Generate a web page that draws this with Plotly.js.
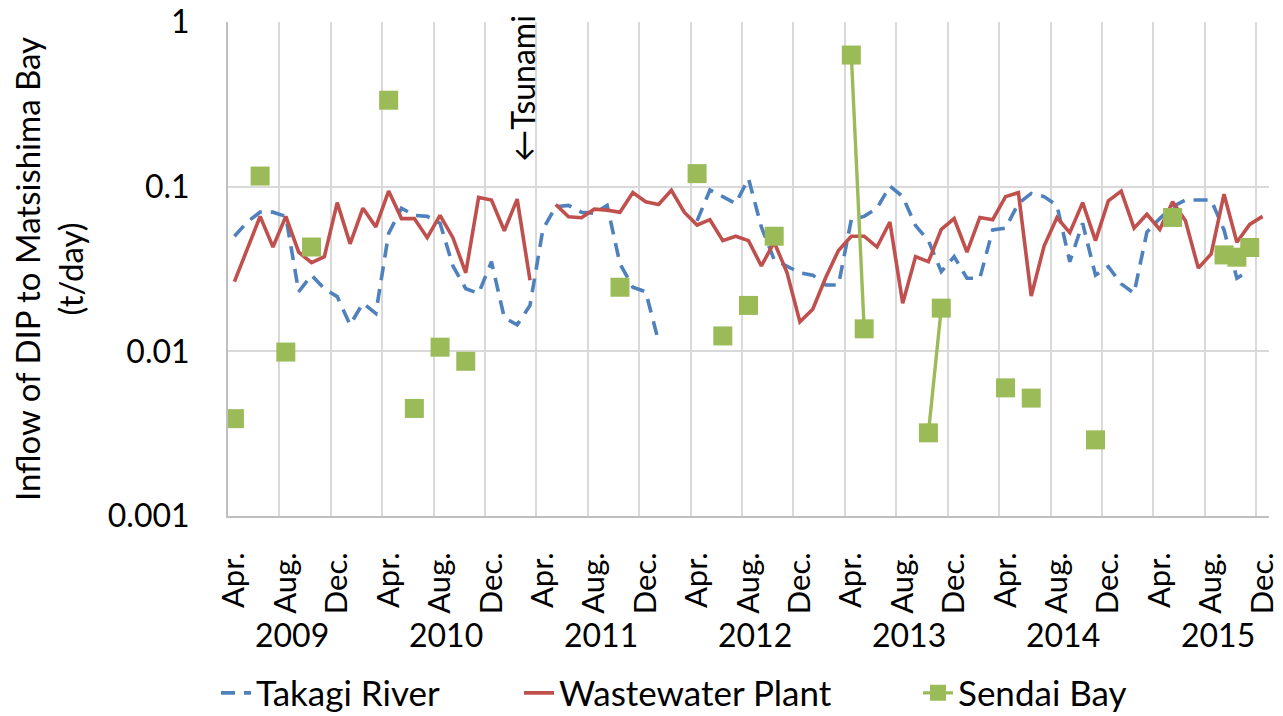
<!DOCTYPE html>
<html>
<head>
<meta charset="utf-8">
<script src="https://cdn.plot.ly/plotly-3.0.1.min.js"></script>
<style>
  html, body { margin: 0; padding: 0; background: #fff; }
  #chart { width: 1283px; height: 716px; }
</style>
</head>
<body>
<div id="chart"></div>
<script>
// ---- Data (monthly, Apr 2009 – Dec 2015), t/day ----
const startYear = 2009, startMonth = 4, monthCount = 81;
const monthNames = ['Jan.','Feb.','Mar.','Apr.','May','Jun.','Jul.','Aug.','Sep.','Oct.','Nov.','Dec.'];
const categories = [];
for (let i = 0; i < monthCount; i++) {
  const m = (startMonth - 1 + i) % 12;
  const y = startYear + Math.floor((startMonth - 1 + i) / 12);
  categories.push({ year: y, month: monthNames[m], key: y + '-' + String(m + 1).padStart(2, '0') });
}

const takagiRiver = [
  0.050, 0.061, 0.070, 0.070, 0.066, 0.023, 0.029, 0.024, 0.0215, 0.0145, 0.0196, 0.017,
  0.052, 0.074, 0.067, 0.066, 0.060, 0.033, 0.024, 0.0225, 0.035, 0.016, 0.0145, 0.019,
  0.055, 0.0756, 0.077, 0.070, 0.069, 0.077, 0.034, 0.0245, 0.023, 0.0115, null, null,
  0.062, 0.0955, 0.087, 0.079, 0.112, 0.057, 0.036, 0.033, 0.030, 0.029, 0.0253, 0.0253,
  0.063, 0.066, 0.074, 0.101, 0.087, 0.058, 0.047, 0.0305, 0.0376, 0.0278, 0.0278, 0.0546,
  0.056, 0.079, 0.091, 0.087, 0.077, 0.035, 0.060, 0.029, 0.0327, 0.0257, 0.0225, 0.053,
  0.064, 0.0756, 0.083, 0.083, 0.083, 0.0546, 0.0278, 0.031, null
];

const wastewaterPlant = [
  0.0265, 0.042, 0.066, 0.043, 0.066, 0.040, 0.0346, 0.0376, 0.080, 0.045, 0.074, 0.057,
  0.094, 0.064, 0.064, 0.049, 0.067, 0.049, 0.030, 0.086, 0.083, 0.054, 0.084, 0.027,
  null, 0.078, 0.0657, 0.0648, 0.073, 0.072, 0.070, 0.092, 0.081, 0.078, 0.095, 0.070,
  0.0585, 0.063, 0.047, 0.050, 0.047, 0.033, 0.046, 0.030, 0.0151, 0.018, 0.028, 0.041,
  0.050, 0.050, 0.043, 0.061, 0.0196, 0.0376, 0.035, 0.055, 0.064, 0.040, 0.065, 0.063,
  0.087, 0.092, 0.0217, 0.0436, 0.065, 0.0526, 0.080, 0.047, 0.082, 0.094, 0.056, 0.068,
  0.055, 0.081, 0.062, 0.032, 0.039, 0.090, 0.046, 0.059, 0.066
];

const sendaiBay = [
  0.0039, null, 0.116, null, 0.0099, null, 0.043, null, null, null, null, null,
  0.335, null, 0.0045, null, 0.0106, null, 0.0087, null, null, null, null, null,
  null, null, null, null, null, null, 0.0245, null, null, null, null, null,
  0.120, null, 0.0124, null, 0.0190, null, 0.050, null, null, null, null, null,
  0.63, 0.0137, null, null, null, null, 0.0032, 0.0183, null, null, null, null,
  0.0060, null, 0.0052, null, null, null, null, 0.0029, null, null, null, null,
  null, 0.065, null, null, null, 0.0385, 0.0373, 0.0427, null
];

const yTickVals = [0.001, 0.01, 0.1, 1];
const yTickText = ['0.001', '0.01', '0.1', '1'];
const tsunamiMonth = '2011-03';

// ---- Build ----
const xIdx = categories.map((c, i) => i);
const hoverLabels = categories.map(c => c.month + ' ' + c.year);

const tickVals = [], tickText = [];
categories.forEach((c, i) => { if (i % 4 === 0) { tickVals.push(i); tickText.push(c.month); } });

const FONT = 'Lato, "Open Sans", sans-serif';

const traces = [
  {
    name: 'Takagi River', x: xIdx, y: takagiRiver, text: hoverLabels, legend: 'legend',
    type: 'scatter', mode: 'lines', connectgaps: false,
    line: { color: '#4F81BD', width: 3.6, dash: '14px,9px' }
  },
  {
    name: 'Wastewater Plant', x: xIdx, y: wastewaterPlant, text: hoverLabels, legend: 'legend2',
    type: 'scatter', mode: 'lines', connectgaps: false,
    line: { color: '#C0504D', width: 3.6 }
  },
  {
    name: 'Sendai Bay', x: xIdx, y: sendaiBay, text: hoverLabels, legend: 'legend3',
    type: 'scatter', mode: 'lines+markers', connectgaps: false,
    line: { color: '#9BBB59', width: 3.4 },
    marker: { symbol: 'square', size: 19, color: '#9BBB59', line: { width: 0 } }
  }
];

// year labels under the month labels
const years = [...new Set(categories.map(c => c.year))];
const annotations = years.map(yr => {
  const first = categories.findIndex(c => c.year === yr && c.month === 'Apr.');
  return {
    x: first + 4.5, xref: 'x', y: -0.24, yref: 'paper',
    text: String(yr), showarrow: false, xanchor: 'center', yanchor: 'middle',
    font: { family: FONT, size: 32, color: '#000' }
  };
});
const tsunamiIdx = categories.findIndex(c => c.key === tsunamiMonth);
annotations.push({
  x: tsunamiIdx - 0.55, xref: 'x', y: -0.40, yref: 'y',
  text: '\u2190Tsunami', textangle: -90, showarrow: false,
  xanchor: 'center', yanchor: 'middle',
  font: { family: FONT, size: 32, color: '#000' }
});

const xRange = [-0.5, monthCount - 0.5];
const legendBase = {
  orientation: 'h', xref: 'container', yref: 'container',
  xanchor: 'left', y: 0.032, yanchor: 'middle',
  font: { family: FONT, size: 35, color: '#000' }, bgcolor: 'rgba(0,0,0,0)'
};

const layout = {
  width: 1283, height: 716,
  margin: { l: 228, r: 14, t: 22, b: 200 },
  paper_bgcolor: '#fff', plot_bgcolor: '#fff',
  font: { family: FONT, size: 32, color: '#000' },
  showlegend: true,
  legend: Object.assign({}, legendBase, { x: 216 / 1283 }),
  legend2: Object.assign({}, legendBase, { x: 519 / 1283 }),
  legend3: Object.assign({}, legendBase, { x: 918 / 1283 }),
  xaxis: {
    type: 'linear', range: xRange, fixedrange: true,
    tickmode: 'array', tickvals: tickVals, ticktext: tickText,
    tickangle: -90, ticks: '', ticklabelstandoff: 22,
    tickfont: { family: FONT, size: 31, color: '#000' },
    showgrid: false,
    minor: { tickmode: 'linear', tick0: -0.5, dtick: 4, showgrid: true, gridcolor: '#D9D9D9', gridwidth: 2, ticks: '' },
    showline: true, linecolor: '#BFBFBF', linewidth: 2,
    zeroline: false
  },
  yaxis: {
    type: 'log', range: [-3, 0], fixedrange: true,
    tickmode: 'array', tickvals: yTickVals, ticktext: yTickText,
    ticks: '', ticklabelstandoff: 30,
    tickfont: { family: FONT, size: 32, color: '#000' },
    showgrid: true, gridcolor: '#D9D9D9', gridwidth: 2,
    showline: true, linecolor: '#BFBFBF', linewidth: 2,
    zeroline: false,
    title: { text: 'Inflow of DIP to Matsishima Bay<br>(t/day)', font: { family: FONT, size: 33, color: '#000' }, standoff: 14 }
  },
  annotations: annotations
};

Plotly.newPlot('chart', traces, layout, { displayModeBar: false, staticPlot: true });
</script>
</body>
</html>
